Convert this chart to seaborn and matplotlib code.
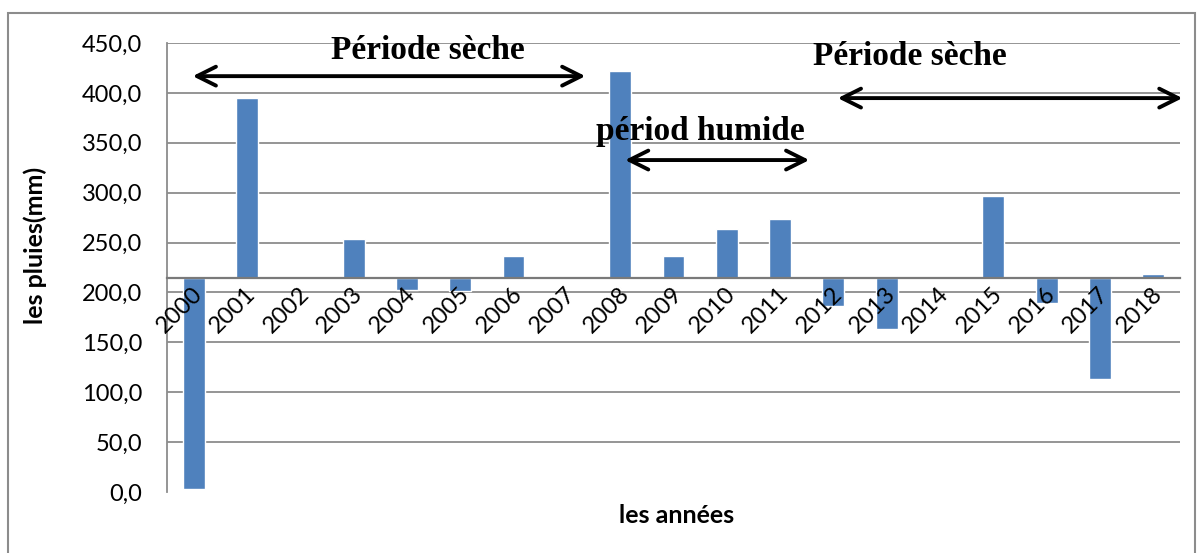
import matplotlib
matplotlib.use('Agg')
import matplotlib.pyplot as plt
import seaborn as sns
import pandas as pd
from matplotlib.patches import Rectangle
from matplotlib.transforms import ScaledTranslation

# Annual rainfall (mm)
years = ['2000', '2001', '2002', '2003', '2004', '2005', '2006', '2007', '2008', '2009',
         '2010', '2011', '2012', '2013', '2014', '2015', '2016', '2017', '2018']
rain = [3.0, 395.0, 214.7, 253.5, 202.7, 201.7, 236.5, 214.7, 422.0, 236.5,
        263.5, 273.5, 186.7, 163.6, 214.7, 296.6, 189.7, 113.0, 218.4]
mean_rain = 214.7
y_ticks = [0, 50, 100, 150, 200, 250, 300, 350, 400, 450]

df = pd.DataFrame({'annee': years, 'ecart': [r - mean_rain for r in rain]})

sns.set_style('white')
plt.rcParams['font.family'] = ['Lato', 'DejaVu Sans']
plt.rcParams['text.color'] = 'black'
plt.rcParams['axes.labelcolor'] = 'black'
plt.rcParams['xtick.labelcolor'] = 'black'
plt.rcParams['ytick.labelcolor'] = 'black'

fig = plt.figure(figsize=(12.04, 5.53), dpi=100)
ax = fig.add_axes([0.1387, 0.1103, 0.8413, 0.8119])
ax.set_axisbelow(False)

# gridlines drawn by hand so they sit behind the bars, tick labels in front
for v in y_ticks[1:]:
    ax.axhline(v, color='#8c8c8c', linewidth=1.3, zorder=0.5)

# bars start from the mean line
sns.barplot(data=df, x='annee', y='ecart', color='#4F81BD', width=0.41,
            bottom=mean_rain, errorbar=None, saturation=1, ax=ax, zorder=2)

ax.set_xlim(-0.5, 18.5)
ax.set_ylim(0, 450)
ax.set_yticks(y_ticks)
ax.set_yticklabels([f'{v:.1f}'.replace('.', ',') for v in y_ticks], fontsize=17)

ax.spines['top'].set_visible(False)
ax.spines['right'].set_visible(False)
ax.spines['left'].set_color('#8c8c8c')
ax.spines['left'].set_linewidth(1.3)
ax.spines['bottom'].set_position(('data', mean_rain))
ax.spines['bottom'].set_color('#7a7a7a')
ax.spines['bottom'].set_linewidth(1.6)

ax.tick_params(axis='y', length=6, width=1.3, color='#8c8c8c', labelcolor='black', pad=12)
ax.tick_params(axis='x', length=0, labelcolor='black', pad=4)
shift = ScaledTranslation(-0.02, 0, fig.dpi_scale_trans)
for lab in ax.get_xticklabels():
    lab.set_rotation(45)
    lab.set_ha('right')
    lab.set_va('top')
    lab.set_rotation_mode('anchor')
    lab.set_fontsize(17)
    lab.set_transform(lab.get_transform() + shift)

ax.set_xlabel('')
ax.set_ylabel('les pluies(mm)', fontsize=18, fontweight='bold', color='black')
ax.yaxis.set_label_coords(-0.118, 0.55)
fig.text(0.562, 0.068, 'les années', ha='center', va='center', fontsize=18,
         fontweight='bold', color='black')

# period annotations
serif = ['Liberation Serif', 'DejaVu Serif']
arrow = dict(arrowstyle='<->', lw=2.8, color='black', mutation_scale=34)
ax.annotate('', xy=(-0.07, 416.8), xytext=(7.4, 416.8), arrowprops=arrow, annotation_clip=False)
ax.text(4.4, 443, 'Période sèche', ha='center', va='center', fontsize=24,
        fontweight='bold', family=serif, color='black', zorder=6)
ax.annotate('', xy=(12.03, 394.8), xytext=(18.6, 394.8), arrowprops=arrow, annotation_clip=False)
ax.text(13.44, 436, 'Période sèche', ha='center', va='center', fontsize=24,
        fontweight='bold', family=serif, color='black', zorder=6)
ax.annotate('', xy=(8.04, 332.7), xytext=(11.6, 332.7), arrowprops=arrow, annotation_clip=False)
ax.text(9.5, 361, 'périod humide', ha='center', va='center', fontsize=24,
        fontweight='bold', family=serif, color='black', zorder=6)

# chart frame
fig.patches.append(Rectangle((8 / 1204, -0.05), 1187 / 1204, 1.05 - 13 / 553,
                             transform=fig.transFigure, fill=False,
                             edgecolor='#8c8c8c', linewidth=1.5))

fig.savefig('out.png', dpi=100)
